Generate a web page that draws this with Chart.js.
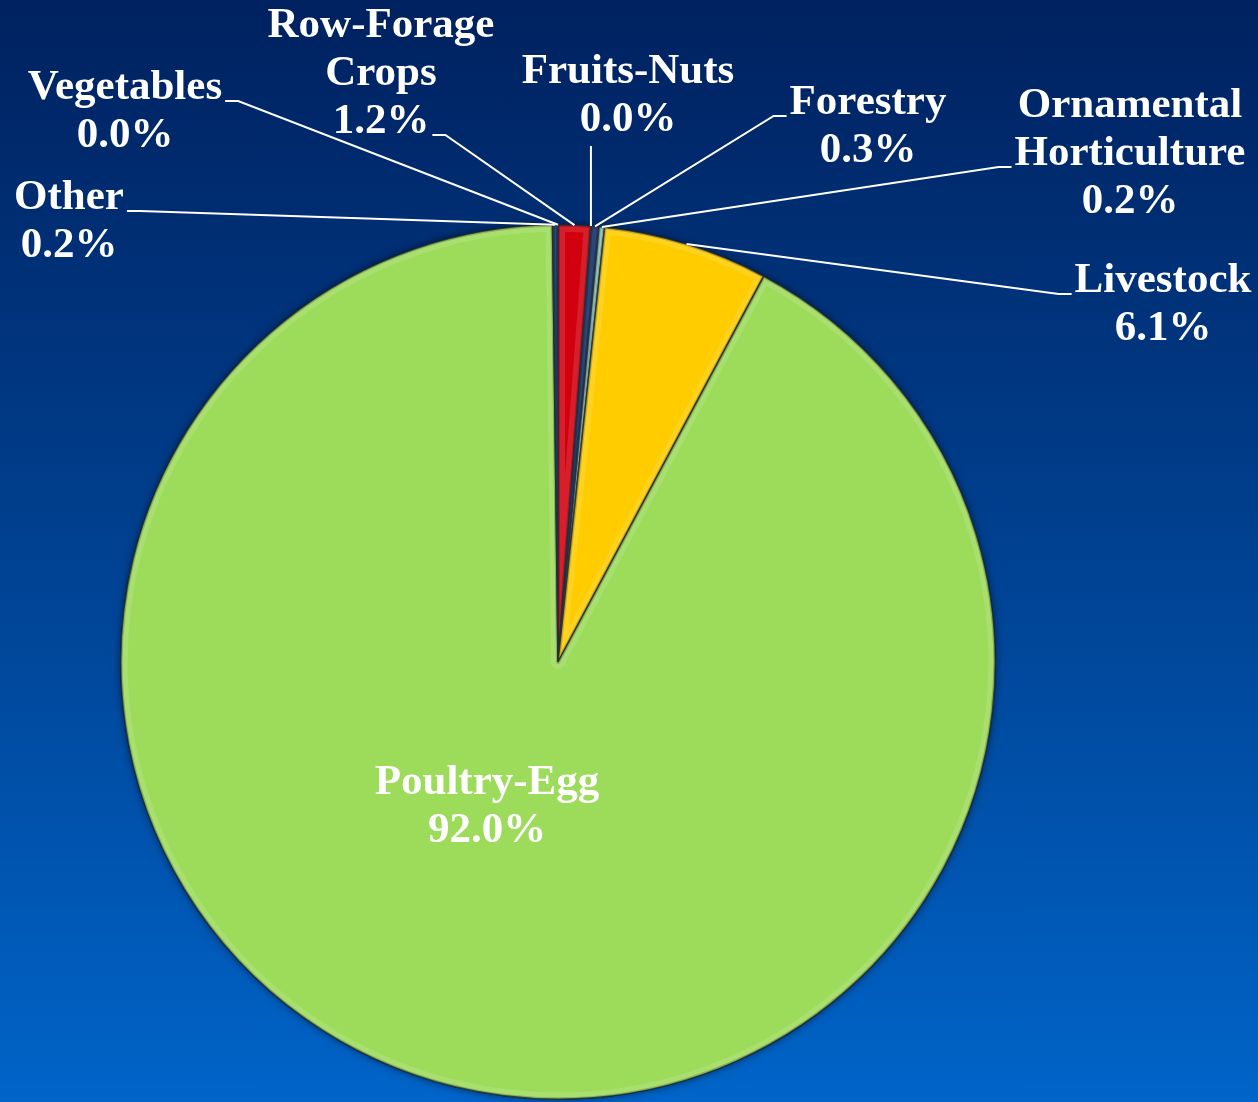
<!DOCTYPE html>
<html>
<head>
<meta charset="utf-8">
<script src="https://cdn.jsdelivr.net/npm/chart.js@4/dist/chart.umd.min.js"></script>
<style>
  html, body { margin: 0; padding: 0; }
  body {
    width: 1258px; height: 1102px; overflow: hidden;
    background: linear-gradient(to bottom, #00215f 0%, #003a86 40%, #0064c8 100%);
  }
  #wrap { position: relative; width: 1258px; height: 1102px; }
</style>
</head>
<body>
<div id="wrap"><canvas id="pie"></canvas></div>
<script>
/* Pie de valor por sector — etiquetas con líneas guía estilo Excel */

const FONT = '"Liberation Serif", "Times New Roman", serif';

const categories = ['Vegetables', 'Row-Forage Crops', 'Fruits-Nuts', 'Forestry',
  'Ornamental Horticulture', 'Livestock', 'Poultry-Egg', 'Other'];
const shares = [0.0, 1.2, 0.0, 0.3, 0.2, 6.1, 92.0, 0.2];
const sliceColors = ['#1a3a7a', '#d2000f', '#1a3a7a', '#0e2c66', '#8cc7bd', '#ffcc00', '#9ddb5a', '#0e2c66'];
const labelLines = [['Vegetables'], ['Row-Forage', 'Crops'], ['Fruits-Nuts'], ['Forestry'],
  ['Ornamental', 'Horticulture'], ['Livestock'], ['Poultry-Egg'], ['Other']];

// label block placement (centre x, first line centre y, which line carries the leader, side)
const labelLayout = [
  { x: 125, y: 88, line: 0, side: 'right' },
  { x: 381, y: 26, line: 2, side: 'right' },
  { x: 628, y: 72, line: 1, side: 'below' },
  { x: 868, y: 103, line: 0, side: 'left' },
  { x: 1130, y: 106, line: 1, side: 'left' },
  { x: 1163, y: 281, line: 0, side: 'left' },
  { x: 487, y: 783, line: 0, side: 'none' },
  { x: 69, y: 198, line: 0, side: 'right' },
];

const LINE_H = 48;
const FONT_SIZE = 43;

const bevelPlugin = {
  id: 'bevel',
  beforeDatasetsDraw(chart) {
    const arc = chart.getDatasetMeta(0).data[0];
    const ctx = chart.ctx;
    ctx.save();
    ctx.shadowColor = 'rgba(0,0,0,0.55)';
    ctx.shadowBlur = 8;
    ctx.beginPath();
    ctx.arc(arc.x, arc.y, arc.outerRadius, 0, Math.PI * 2);
    ctx.fillStyle = '#9ddb5a';
    ctx.fill();
    ctx.restore();
  },
  afterDatasetsDraw(chart) {
    const ctx = chart.ctx;
    chart.getDatasetMeta(0).data.forEach((arc) => {
      if (arc.endAngle - arc.startAngle <= 0) return;
      ctx.save();
      ctx.beginPath();
      ctx.moveTo(arc.x, arc.y);
      ctx.arc(arc.x, arc.y, arc.outerRadius, arc.startAngle, arc.endAngle);
      ctx.closePath();
      ctx.clip();
      ctx.lineJoin = 'round';
      ctx.lineWidth = 14;
      ctx.strokeStyle = 'rgba(255,255,255,0.12)';
      ctx.stroke();
      ctx.lineWidth = 4;
      ctx.strokeStyle = 'rgba(0,0,0,0.2)';
      ctx.stroke();
      ctx.restore();
    });
  },
};

const labelPlugin = {
  id: 'leaderLabels',
  afterDraw(chart) {
    const ctx = chart.ctx;
    const arcs = chart.getDatasetMeta(0).data;
    ctx.save();
    ctx.font = `bold ${FONT_SIZE}px ${FONT}`;
    ctx.textAlign = 'center';
    ctx.textBaseline = 'middle';
    ctx.fillStyle = '#ffffff';
    ctx.strokeStyle = '#ffffff';
    ctx.lineWidth = 2;

    arcs.forEach((arc, i) => {
      const lay = labelLayout[i];
      const lines = labelLines[i].concat([shares[i].toFixed(1) + '%']);
      lines.forEach((t, k) => ctx.fillText(t, lay.x, lay.y + k * LINE_H));

      if (lay.side === 'none') return;
      const mid = (arc.startAngle + arc.endAngle) / 2;
      const px = arc.x + Math.cos(mid) * arc.outerRadius;
      const py = arc.y + Math.sin(mid) * arc.outerRadius;
      const ly = lay.y + lay.line * LINE_H + 13;
      const w = ctx.measureText(lines[lay.line]).width;

      ctx.beginPath();
      if (lay.side === 'below') {
        ctx.moveTo(px, lay.y + (lines.length - 1) * LINE_H + 26);
        ctx.lineTo(px, py);
      } else {
        const dir = lay.side === 'right' ? 1 : -1;
        const x0 = lay.x + dir * (w / 2 + 3);
        const x1 = x0 + dir * 13;
        ctx.moveTo(x0, ly);
        ctx.lineTo(x1, ly);
        ctx.lineTo(px, py);
      }
      ctx.stroke();
    });
    ctx.restore();
  },
};

new Chart(document.getElementById('pie'), {
  type: 'pie',
  data: {
    labels: categories,
    datasets: [{
      data: shares,
      backgroundColor: sliceColors,
      borderColor: 'rgba(20,30,40,0.85)',
      borderWidth: 1.5,
    }],
  },
  options: {
    responsive: true,
    maintainAspectRatio: false,
    animation: false,
    layout: { padding: { left: 120, right: 262, top: 224, bottom: 2 } },
    plugins: {
      legend: { display: false },
      tooltip: { enabled: false },
    },
  },
  plugins: [bevelPlugin, labelPlugin],
});
</script>
</body>
</html>
